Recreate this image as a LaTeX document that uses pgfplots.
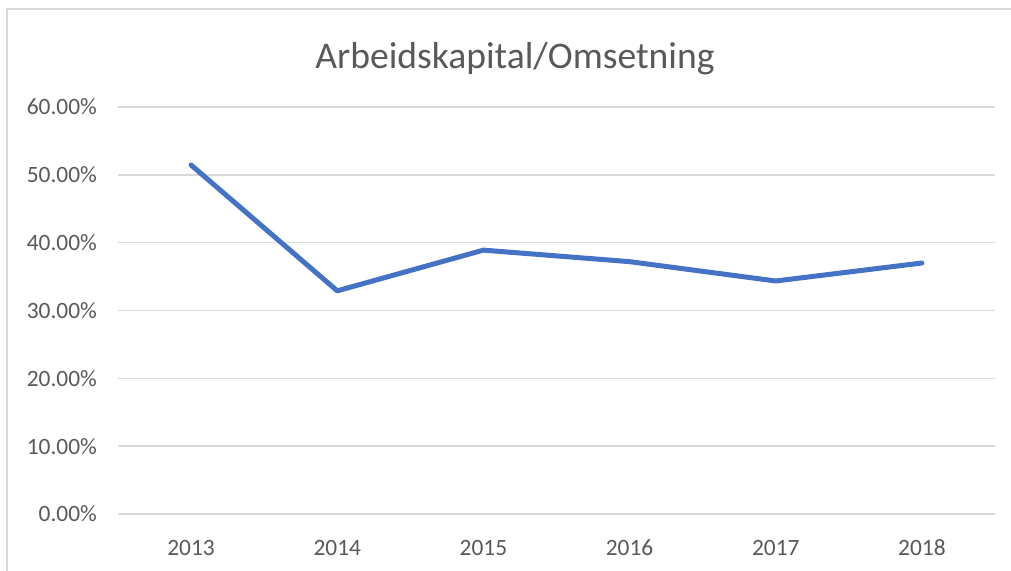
\documentclass[border=0pt]{standalone}
\usepackage{pgfplots}
\pgfplotsset{compat=1.18}
\usepackage{fontspec}
\setmainfont{Carlito}
\definecolor{xlblue}{HTML}{4472C4}
\definecolor{xlgrid}{HTML}{D9D9D9}
\definecolor{xltext}{HTML}{595959}
\begin{document}
\begin{tikzpicture}[x=1pt,y=1pt]
\path[use as bounding box] (0,0) rectangle (505.5,285.5);
\draw[xlgrid, line width=0.8pt] (3.5,0) -- (3.5,281) -- (505.5,281);
\node[anchor=base, text=xltext, font=\fontsize{18.8}{21}\selectfont] at (257.5,251) {Arbeidskapital/Omsetning};
\begin{axis}[
  at={(59pt,28.5pt)}, anchor=south west,
  scale only axis, width=438.5pt, height=203.5pt,
  xmin=-0.5, xmax=5.5, ymin=0, ymax=60,
  xtick={0,1,2,3,4,5},
  xticklabels={2013,2014,2015,2016,2017,2018},
  ytick={0,10,20,30,40,50,60},
  yticklabels={0.00\%,10.00\%,20.00\%,30.00\%,40.00\%,50.00\%,60.00\%},
  axis line style={draw=none},
  major tick length=0pt,
  ymajorgrids, grid style={xlgrid, line width=0.7pt},
  tick label style={text=xltext, font=\fontsize{11.7}{13}\selectfont},
  yticklabel style={xshift=-7pt},
  xticklabel style={text height=8.5pt, text depth=0pt, yshift=-8.5pt},
  clip=false,
]
\addplot[xlblue, line width=2.5pt, line join=round, line cap=round] table {
x y
0 51.45
1 32.9
2 38.9
3 37.2
4 34.35
5 37.0
};
\end{axis}
\end{tikzpicture}
\end{document}
